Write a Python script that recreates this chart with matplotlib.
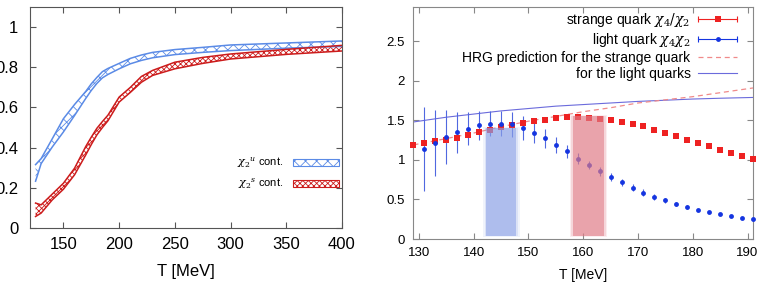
import numpy as np
import matplotlib
matplotlib.use('Agg')
import matplotlib.pyplot as plt
from matplotlib.patches import Patch
from matplotlib.lines import Line2D
from matplotlib.legend_handler import HandlerBase

plt.rcParams['font.family'] = ['Liberation Sans', 'DejaVu Sans']
plt.rcParams['mathtext.fontset'] = 'dejavuserif'
plt.rcParams['hatch.linewidth'] = 0.6

# ---------------- left panel: chi2 continuum bands ----------------
T_band = [125, 130, 140, 150, 160, 170, 175, 180, 185, 190, 200, 210, 220, 230, 250, 275, 300, 350, 400]
u_upper = [0.315, 0.345, 0.444, 0.544, 0.615, 0.68, 0.718, 0.75, 0.779, 0.795, 0.82, 0.845, 0.862, 0.875, 0.889, 0.90, 0.912, 0.922, 0.932]
u_lower = [0.232, 0.32, 0.403, 0.478, 0.56, 0.645, 0.685, 0.72, 0.748, 0.765, 0.793, 0.818, 0.835, 0.848, 0.864, 0.875, 0.884, 0.896, 0.905]
s_upper = [0.123, 0.114, 0.168, 0.222, 0.297, 0.405, 0.452, 0.496, 0.53, 0.562, 0.652, 0.70, 0.755, 0.785, 0.826, 0.85, 0.867, 0.89, 0.91]
s_lower = [0.056, 0.073, 0.139, 0.192, 0.264, 0.363, 0.415, 0.463, 0.50, 0.534, 0.627, 0.675, 0.726, 0.76, 0.793, 0.82, 0.842, 0.865, 0.882]

# ---------------- right panel: chi4/chi2 ----------------
T_s = list(range(129, 192, 2))
s_ratio = [1.184, 1.213, 1.238, 1.256, 1.281, 1.318, 1.351, 1.381, 1.414, 1.445, 1.47,
           1.49, 1.511, 1.528, 1.537, 1.537, 1.528, 1.52, 1.503, 1.482, 1.457,
           1.423, 1.381, 1.344, 1.301, 1.251, 1.213, 1.171, 1.121, 1.083, 1.045, 1.016]
s_err = [0.008] * len(T_s)

T_l = list(range(131, 192, 2))
l_ratio = [1.137, 1.213, 1.285, 1.348, 1.394, 1.436, 1.457, 1.457, 1.448, 1.40,
           1.343, 1.276, 1.192, 1.108, 1.016, 0.936, 0.856, 0.781, 0.718, 0.651,
           0.588, 0.533, 0.491, 0.441, 0.403, 0.369, 0.336, 0.311, 0.286, 0.268, 0.252]
l_err = [0.53, 0.42, 0.34, 0.26, 0.21, 0.18, 0.16, 0.16, 0.16, 0.15,
         0.13, 0.12, 0.10, 0.08, 0.07, 0.055, 0.06, 0.05, 0.045, 0.04,
         0.04, 0.035, 0.03, 0.03, 0.025, 0.015, 0.01, 0.008, 0.008, 0.008, 0.008]

T_hrg = [129, 135, 140, 145, 150, 155, 160, 165, 170, 175, 180, 185, 191]
hrg_s = [1.19, 1.27, 1.34, 1.42, 1.49, 1.55, 1.61, 1.66, 1.72, 1.76, 1.80, 1.85, 1.91]
hrg_l = [1.48, 1.54, 1.58, 1.62, 1.65, 1.68, 1.70, 1.72, 1.74, 1.755, 1.77, 1.78, 1.79]

band_light = [142.3, 147.8]
band_light_top = 1.40
band_strange = [158.1, 163.8]
band_strange_top = 1.55
band_bottom = 0.04

blue = '#5b8be6'
red = '#cc1c1c'
s_col = '#ee2222'
l_col = '#1535e0'


class HandlerBarCaps(HandlerBase):
    # gnuplot style key: horizontal bar with end caps and the point in the middle
    def create_artists(self, legend, orig_handle, xdescent, ydescent, width, height, fontsize, trans):
        c = orig_handle.get_color()
        y = height / 2 - ydescent
        x0, x1 = -xdescent, width - xdescent
        bar = Line2D([x0, x1], [y, y], color=c, lw=0.8)
        caps = Line2D([x0, x1], [y, y], color=c, lw=0, marker='|', ms=5, mew=0.8)
        mk = Line2D([(x0 + x1) / 2], [y], color=c, lw=0, marker=orig_handle.get_marker(),
                    ms=orig_handle.get_markersize(), mew=0)
        for a in (bar, caps, mk):
            a.set_transform(trans)
        return [bar, caps, mk]


fig = plt.figure(figsize=(7.62, 2.88), dpi=100)

# ---- left
ax1 = fig.add_axes([30 / 762, 1 - 227.7 / 288, 312 / 762, 220.4 / 288])
ax1.fill_between(T_band, u_lower, u_upper, facecolor='none', edgecolor=blue, hatch='xxx', linewidth=0)
ax1.plot(T_band, u_upper, color=blue, lw=1.1)
ax1.plot(T_band, u_lower, color=blue, lw=1.1)
ax1.fill_between(T_band, s_lower, s_upper, facecolor='none', edgecolor=red, hatch='xxxxxx', linewidth=0)
ax1.plot(T_band, s_upper, color=red, lw=1.1)
ax1.plot(T_band, s_lower, color=red, lw=1.1)
ax1.set_xlim(120, 400)
ax1.set_ylim(0, 1.1)
ax1.set_xticks([150, 200, 250, 300, 350, 400])
ax1.set_yticks([0, 0.2, 0.4, 0.6, 0.8, 1])
ax1.set_yticklabels(['0', '0.2', '0.4', '0.6', '0.8', '1'])
ax1.tick_params(direction='in', length=4, labelsize=12, top=True, right=True, color='#555555')
ax1.tick_params(axis='y', pad=8.5)
ax1.tick_params(axis='x', pad=7)
for s in ax1.spines.values():
    s.set_color('#555555')
ax1.set_xlabel('T [MeV]', fontsize=12, labelpad=8)
h1 = [Patch(facecolor='none', edgecolor=blue, hatch='xxx', lw=0.8, label=r'$\chi_2{}^u$ cont.'),
      Patch(facecolor='none', edgecolor=red, hatch='xxxxxx', lw=0.8, label=r'$\chi_2{}^s$ cont.')]
ax1.legend(handles=h1, loc='upper right', bbox_to_anchor=(0.99, 0.325), frameon=False, markerfirst=False,
           fontsize=8, handlelength=4.1, handleheight=0.6, borderpad=0, borderaxespad=0, labelspacing=0.55,
           handletextpad=0.9)

# ---- right
ax2 = fig.add_axes([413.5 / 762, 1 - 239 / 288, 339.5 / 762, 231.7 / 288])
line_l, = ax2.plot(T_hrg, hrg_l, color='#6b6bdc', lw=0.8, zorder=2)
line_s, = ax2.plot(T_hrg, hrg_s, color='#f08a8a', lw=0.9, ls=(0, (4, 3)), zorder=2)
ax2.errorbar(T_s, s_ratio, yerr=s_err, fmt='s', color=s_col, ms=4, mew=0, elinewidth=0.8, capsize=1.5,
             clip_on=False, zorder=3)
ax2.errorbar(T_l, l_ratio, yerr=l_err, fmt='o', color=l_col, ecolor='#5068e0', ms=3.5, mew=0,
             elinewidth=0.8, capsize=2, clip_on=False, zorder=3)

# shaded bands with soft edges
for (x0, x1), top, c in [(band_light, band_light_top, '#8aa0e6'), (band_strange, band_strange_top, '#e07a85')]:
    for grow, a in [(0.6, 0.12), (0.3, 0.2), (0.0, 0.55)]:
        ax2.fill_between([x0 - grow, x1 + grow], band_bottom - grow * 0.02, top + grow * 0.02,
                         color=c, alpha=a, lw=0, zorder=4)

ax2.set_xlim(129, 191)
ax2.set_ylim(0, 2.93)
ax2.set_xticks([130, 140, 150, 160, 170, 180, 190])
ax2.set_yticks([0, 0.5, 1, 1.5, 2, 2.5])
ax2.set_yticklabels(['0', '0.5', '1', '1.5', '2', '2.5'])
ax2.tick_params(direction='in', length=4, labelsize=9.5, top=True, right=True, color='#888888', pad=6)
for s in ax2.spines.values():
    s.set_color('#888888')
ax2.set_xlabel('T [MeV]', fontsize=10, labelpad=6)

leg_s = Line2D([], [], color=s_col, marker='s', ms=4)
leg_l = Line2D([], [], color=l_col, marker='o', ms=3.5)
lab2 = [r'strange quark $\chi_4/\chi_2$', r'light quark $\chi_4\chi_2$',
        'HRG prediction for the strange quark', 'for the light quarks']
ax2.legend([leg_s, leg_l, line_s, line_l], lab2, loc='upper right',
           bbox_to_anchor=(0.953, 0.985), frameon=False, markerfirst=False, fontsize=10,
           handlelength=2.8, handletextpad=0.55, borderpad=0, borderaxespad=0, labelspacing=0.15,
           handler_map={leg_s: HandlerBarCaps(), leg_l: HandlerBarCaps()})

fig.savefig('out.png', dpi=100)
